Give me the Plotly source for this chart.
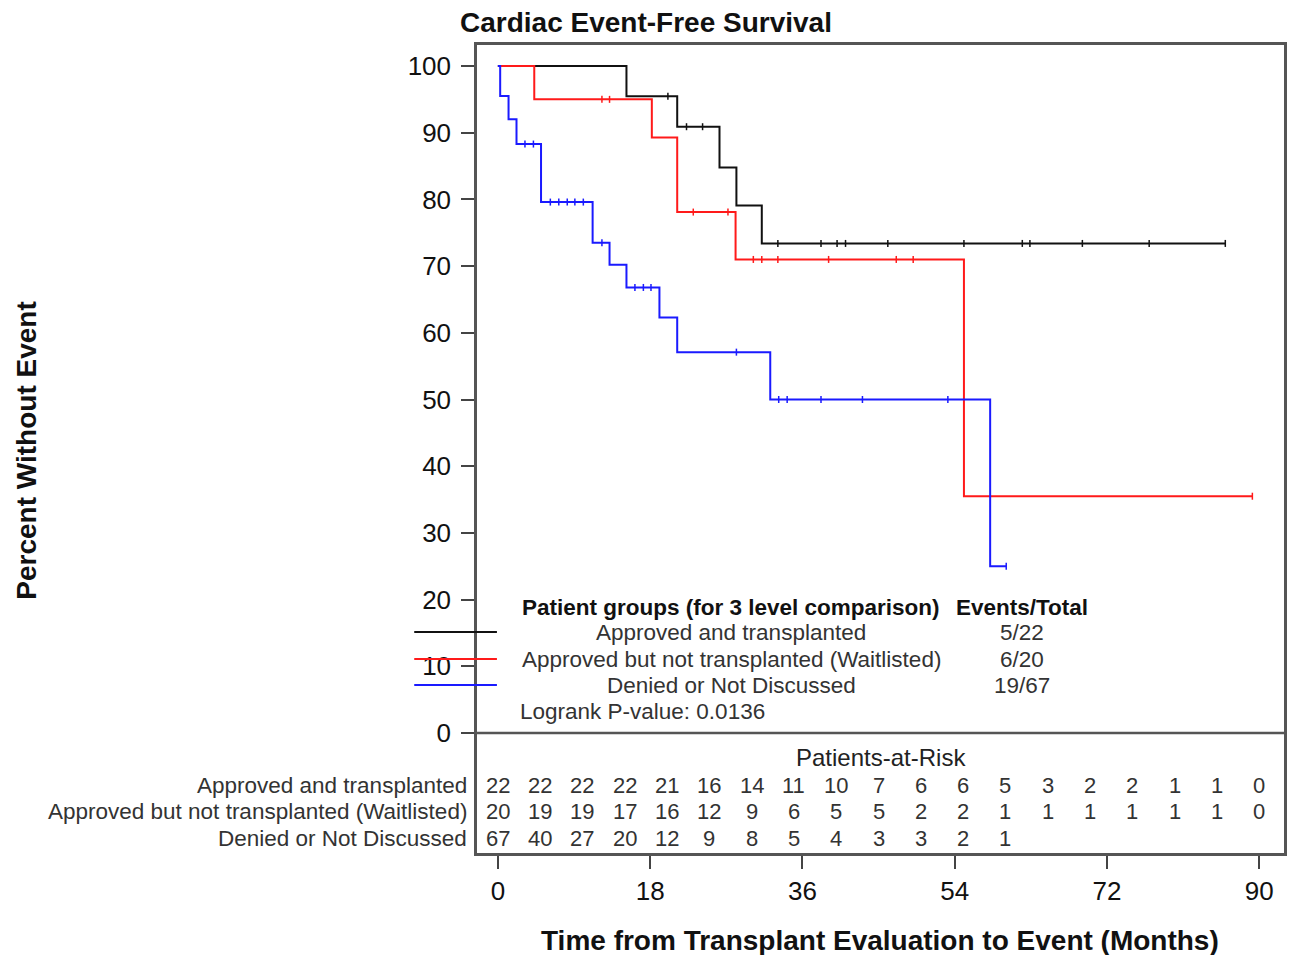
import plotly.graph_objects as go

# ---------------- data ----------------
groups = ["Approved and transplanted",
          "Approved but not transplanted (Waitlisted)",
          "Denied or Not Discussed"]
colors = ["#111111", "#ff1a1a", "#1a1aff"]

# step times (months) and survival (%) after each step
black_t = [0, 15.2, 21.2, 26.2, 28.2, 31.2]
black_s = [100, 95.45, 90.9, 84.8, 79.1, 73.4]
black_end = 86.0
black_cens = [20.1, 22.3, 24.2, 33.1, 38.2, 40.1, 41.1, 46.1, 55.1, 62.0, 62.9, 69.1, 77.0, 86.0]

red_t = [0, 4.3, 18.2, 21.2, 28.1, 55.1]
red_s = [100, 95.0, 89.3, 78.1, 71.0, 35.5]
red_end = 89.2
red_cens = [12.3, 13.2, 23.1, 27.2, 30.2, 31.2, 33.1, 39.1, 47.1, 49.1, 89.2]

blue_t = [0, 0.27, 1.26, 2.2, 5.1, 11.2, 13.2, 15.2, 19.1, 21.2, 32.2, 58.2]
blue_s = [100, 95.5, 92.0, 88.3, 79.6, 73.5, 70.2, 66.8, 62.3, 57.1, 50.0, 25.0]
blue_end = 60.1
blue_cens = [3.2, 4.2, 6.2, 7.2, 8.2, 9.1, 10.1, 12.3, 16.2, 17.2, 18.1, 28.2,
             33.2, 34.2, 38.2, 43.1, 53.2, 60.1]

events_total = ["5/22", "6/20", "19/67"]
logrank = "Logrank P-value: 0.0136"

risk_times = [0, 5, 10, 15, 20, 25, 30, 35, 40, 45, 50, 55, 60, 65, 70, 75, 80, 85, 90]
risk_black = [22, 22, 22, 22, 21, 16, 14, 11, 10, 7, 6, 6, 5, 3, 2, 2, 1, 1, 0]
risk_red = [20, 19, 19, 17, 16, 12, 9, 6, 5, 5, 2, 2, 1, 1, 1, 1, 1, 1, 0]
risk_blue = [67, 40, 27, 20, 12, 9, 8, 5, 4, 3, 3, 2, 1]

x_ticks = [0, 18, 36, 54, 72, 90]
y_ticks = [0, 10, 20, 30, 40, 50, 60, 70, 80, 90, 100]

# ---------------- layout geometry ----------------
OFF = 8  # page body margin
W, H = 1297 - OFF, 955 - OFF
L, R, T = 477 - OFF, 10, 45 - OFF
B = H - (853 - OFF)
PW = W - L - R
PH = H - T - B
X_RANGE = [-2.47, 92.94]
Y_RANGE = [-17.99, 103.15]

def px_x(px):
    return (px - OFF - L) / PW

def px_y(py):
    return (H - B - (py - OFF)) / PH

FONT = "Liberation Sans, Arial, sans-serif"

fig = go.Figure()

curves = [(black_t, black_s, black_end, black_cens),
          (red_t, red_s, red_end, red_cens),
          (blue_t, blue_s, blue_end, blue_cens)]

def surv_at(ts, ss, t):
    v = ss[0]
    for ti, si in zip(ts, ss):
        if ti <= t:
            v = si
    return v

for (ts, ss, tend, cens), col, name in zip(curves, colors, groups):
    fig.add_trace(go.Scatter(
        x=ts + [tend], y=ss + [ss[-1]], mode="lines", line_shape="hv",
        line=dict(color=col, width=2), name=name, hoverinfo="skip"))
    fig.add_trace(go.Scatter(
        x=cens, y=[surv_at(ts, ss, c) for c in cens], mode="markers",
        marker=dict(symbol="line-ns", size=5, line=dict(color=col, width=1.5)),
        name=name + " censored", hoverinfo="skip"))

annotations = []
TITLE_FONT = dict(family=FONT, size=28, color="#111")
# title
annotations.append(dict(text="<b>Cardiac Event-Free Survival</b>", xref="paper", yref="paper",
                        x=px_x(647), y=px_y(23), xanchor="center", yanchor="middle",
                        showarrow=False, font=TITLE_FONT))
# y title
annotations.append(dict(text="<b>Percent Without Event</b>", xref="paper", yref="paper",
                        x=px_x(24), y=px_y(451), xanchor="center", yanchor="middle",
                        textangle=-90, showarrow=False, font=TITLE_FONT))
# x title
annotations.append(dict(text="<b>Time from Transplant Evaluation to Event (Months)</b>",
                        xref="paper", yref="paper", x=px_x(881), y=px_y(940),
                        xanchor="center", yanchor="middle", showarrow=False,
                        font=TITLE_FONT))

# legend block
LEG = 22.5
leg_rows_y = [632, 659, 685]
annotations.append(dict(text="<b>Patient groups (for 3 level comparison)</b>", xref="paper",
                        yref="paper", x=px_x(732), y=px_y(607), xanchor="center",
                        yanchor="middle", showarrow=False,
                        font=dict(family=FONT, size=LEG, color="#111")))
annotations.append(dict(text="<b>Events/Total</b>", xref="paper", yref="paper",
                        x=px_x(1024), y=px_y(607), xanchor="center", yanchor="middle",
                        showarrow=False, font=dict(family=FONT, size=LEG, color="#111")))
shapes = []
for g, et, col, ry in zip(groups, events_total, colors, leg_rows_y):
    annotations.append(dict(text=g, xref="paper", yref="paper", x=px_x(732), y=px_y(ry),
                            xanchor="center", yanchor="middle", showarrow=False,
                            font=dict(family=FONT, size=LEG, color="#333")))
    annotations.append(dict(text=et, xref="paper", yref="paper", x=px_x(1024), y=px_y(ry),
                            xanchor="center", yanchor="middle", showarrow=False,
                            font=dict(family=FONT, size=LEG, color="#333")))
    shapes.append(dict(type="line", xref="paper", yref="paper",
                       x0=px_x(414), x1=px_x(497), y0=px_y(ry), y1=px_y(ry),
                       line=dict(color=col, width=2)))
annotations.append(dict(text=logrank, xref="paper", yref="paper", x=px_x(518), y=px_y(711),
                        xanchor="left", yanchor="middle", showarrow=False,
                        font=dict(family=FONT, size=LEG, color="#333")))

# separator line at y = 0
shapes.append(dict(type="line", xref="paper", yref="y", x0=0, x1=1, y0=0, y1=0,
                   line=dict(color="#555", width=2.5)))

# at-risk table
annotations.append(dict(text="Patients-at-Risk", xref="x", yref="paper",
                        x=(X_RANGE[0] + X_RANGE[1]) / 2, y=px_y(757), xanchor="center",
                        yanchor="middle", showarrow=False,
                        font=dict(family=FONT, size=24, color="#222")))
risk_rows = [risk_black, risk_red, risk_blue]
risk_rows_y = [785, 811, 838]
for g, row, ry in zip(groups, risk_rows, risk_rows_y):
    annotations.append(dict(text=g, xref="paper", yref="paper", x=px_x(469), y=px_y(ry),
                            xanchor="right", yanchor="middle", showarrow=False,
                            font=dict(family=FONT, size=22.5, color="#333")))
    for t, n in zip(risk_times, row):
        annotations.append(dict(text=str(n), xref="x", yref="paper", x=t, y=px_y(ry),
                                xanchor="center", yanchor="middle", showarrow=False,
                                font=dict(family=FONT, size=22, color="#333")))

axis_common = dict(showgrid=False, zeroline=False, showline=True, linecolor="#555",
                   linewidth=2.5, mirror=True, ticks="outside", ticklen=13, tickwidth=2,
                   tickcolor="#444", tickfont=dict(family=FONT, size=26, color="#111"))

fig.update_layout(
    width=W, height=H, margin=dict(l=L, r=R, t=T, b=B, pad=0),
    paper_bgcolor="white", plot_bgcolor="white", showlegend=False,
    xaxis=dict(range=X_RANGE, tickvals=x_ticks, ticklabelstandoff=0, **axis_common),
    yaxis=dict(range=Y_RANGE, tickvals=y_ticks, ticklabelstandoff=5, **axis_common),
    annotations=annotations, shapes=shapes,
)

fig.write_html("out.html")
